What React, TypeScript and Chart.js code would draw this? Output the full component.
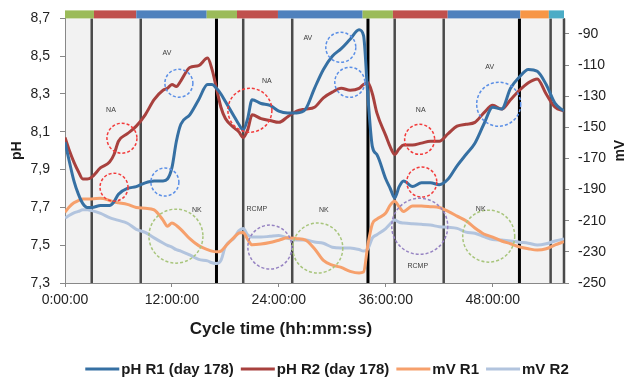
import React, { useEffect, useRef } from 'react';
import { Chart, registerables } from 'chart.js';

Chart.register(...registerables);

// ---- data (time in hours of the cycle) ----
const hours = [0, 0.5, 1, 1.5, 2, 2.5, 3, 4, 5, 5.5, 6, 7, 8, 9, 10, 11, 11.5, 12, 12.5, 13, 14, 15, 16, 16.5, 17, 17.5, 18, 19, 19.5, 20, 20.5, 21, 22, 23, 24, 25, 26, 27, 28, 29, 30, 31, 32, 33, 33.5, 34, 34.5, 35, 36, 36.5, 37, 37.5, 38, 39, 40, 41, 42, 43, 44, 45, 46, 47, 48, 49, 50, 51, 52, 53, 54, 55, 56];

const phR1 = [8.045, 7.94, 7.84, 7.77, 7.72, 7.70, 7.70, 7.71, 7.71, 7.73, 7.77, 7.80, 7.81, 7.83, 7.84, 7.84, 7.85, 7.91, 8.05, 8.14, 8.19, 8.27, 8.35, 8.35, 8.33, 8.30, 8.26, 8.18, 8.14, 8.11, 8.17, 8.27, 8.25, 8.24, 8.21, 8.20, 8.20, 8.22, 8.33, 8.43, 8.50, 8.54, 8.59, 8.64, 8.61, 8.28, 8.02, 7.98, 7.85, 7.80, 7.75, 7.81, 7.84, 7.81, 7.83, 7.83, 7.82, 7.85, 7.92, 7.98, 8.04, 8.14, 8.23, 8.22, 8.33, 8.39, 8.43, 8.42, 8.35, 8.25, 8.21];

const phR2 = [8.07, 8.00, 7.94, 7.89, 7.85, 7.85, 7.86, 7.91, 7.94, 7.98, 8.05, 8.09, 8.13, 8.19, 8.27, 8.32, 8.33, 8.35, 8.34, 8.37, 8.44, 8.45, 8.49, 8.43, 8.33, 8.23, 8.17, 8.12, 8.10, 8.07, 8.11, 8.19, 8.17, 8.16, 8.15, 8.18, 8.21, 8.22, 8.23, 8.28, 8.31, 8.33, 8.32, 8.33, 8.35, 8.36, 8.30, 8.20, 8.08, 8.02, 7.98, 8.01, 8.03, 8.03, 8.04, 8.05, 8.05, 8.09, 8.13, 8.14, 8.15, 8.20, 8.24, 8.22, 8.27, 8.32, 8.36, 8.38, 8.30, 8.23, 8.21];

const mvR1 = [-204.5, -201, -198.5, -197, -196, -196, -196, -195.5, -197, -198, -198.5, -199.5, -201.5, -202, -203, -209.6, -213.5, -211.5, -213, -215.5, -221.5, -226, -228.5, -229.5, -230, -229.5, -226.5, -220.5, -218, -217.5, -222, -225.5, -225, -224, -222.5, -221, -221.5, -222.4, -228, -235.5, -238.5, -240, -242.5, -243.6, -243, -225, -212, -209, -205, -200, -197.5, -201, -204, -200.5, -200.6, -201, -201.5, -204, -207, -210, -214.7, -218.5, -220.5, -223, -224.8, -226.8, -228, -228.8, -228, -225.5, -223.5];

const mvR2 = [-208.3, -206.5, -205, -204, -203, -203, -203.5, -205.3, -208, -209, -209.8, -211.6, -215.5, -217.5, -221, -224.3, -225.8, -227, -228.6, -229.5, -232, -234.8, -235.8, -237, -237.5, -235.5, -226.5, -221, -216.5, -215, -219, -220.5, -220.5, -220, -219.5, -221.2, -222.4, -222.4, -223.7, -224.5, -227, -227.5, -227.5, -228.5, -229.5, -228, -221, -219, -215, -212, -209.6, -211, -211.5, -212, -212.3, -212.8, -213.8, -214.2, -214.9, -217.3, -218, -220.2, -222, -222.4, -223, -223.8, -224.4, -225.6, -224.8, -223, -221.7];

const seriesLabels = ['pH R1 (day 178)', 'pH R2 (day 178)', 'mV R1', 'mV R2'];

const phTicks = [7.3, 7.5, 7.7, 7.9, 8.1, 8.3, 8.5, 8.7];
const mvTicks = [-250, -230, -210, -190, -170, -150, -130, -110, -90];
const hourTicks = [0, 12, 24, 36, 48];

// phase boundaries (hours)
const phaseLines = [3, 8.5, 17, 20, 25.5, 34, 37, 42.5, 51, 54.5, 56];
const cycleStarts = [17, 34, 51];
// top stage bar
const stageEdges = [0, 3.25, 8, 15.9, 19.3, 23.9, 33.4, 36.8, 42.95, 51.1, 54.3, 56];
const stageKinds = ['fill', 'anox', 'aer', 'fill', 'anox', 'aer', 'fill', 'anox', 'aer', 'settle', 'draw'];

// annotations (hours, pH-axis value)
const markCircles = [
  { h: 6.39, v: 8.066, r: 15, kind: 'NA' },
  { h: 5.5, v: 7.807, r: 14, kind: 'NA' },
  { h: 12.78, v: 8.357, r: 14, kind: 'AV' },
  { h: 11.21, v: 7.834, r: 14, kind: 'AV' },
  { h: 12.45, v: 7.548, r: 27, kind: 'NK' },
  { h: 20.75, v: 8.214, r: 22, kind: 'NA' },
  { h: 22.99, v: 7.49, r: 22, kind: 'RCMP' },
  { h: 28.37, v: 7.485, r: 25, kind: 'NK' },
  { h: 30.95, v: 8.547, r: 15, kind: 'AV' },
  { h: 31.96, v: 8.362, r: 15, kind: 'AV' },
  { h: 39.8, v: 8.06, r: 15, kind: 'NA' },
  { h: 40.04, v: 7.834, r: 15, kind: 'NA' },
  { h: 39.81, v: 7.6, r: 28, kind: 'RCMP' },
  { h: 47.55, v: 7.548, r: 26, kind: 'NK' },
  { h: 48.67, v: 8.246, r: 22, kind: 'AV' },
];
const markLabels = [
  { h: 5.16, v: 8.214, text: 'NA' },
  { h: 11.44, v: 8.515, text: 'AV' },
  { h: 14.8, v: 7.686, text: 'NK' },
  { h: 22.65, v: 8.367, text: 'NA' },
  { h: 21.53, v: 7.691, text: 'RCMP' },
  { h: 29.05, v: 7.686, text: 'NK' },
  { h: 27.25, v: 8.594, text: 'AV' },
  { h: 39.92, v: 8.214, text: 'NA' },
  { h: 39.59, v: 7.39, text: 'RCMP' },
  { h: 46.65, v: 7.691, text: 'NK' },
  { h: 47.66, v: 8.441, text: 'AV' },
];

const xTitle = 'Cycle time (hh:mm:ss)';
const yTitle = 'pH';
const y1Title = 'mV';

const FONT = "'Liberation Sans', Arial, sans-serif";
const seriesColors = ['#3670A3', '#A8413E', '#F6A06C', '#B2C4DE'];

const stageColors: Record<string, string> = {
  fill: '#9BBB59',
  anox: '#C0504D',
  aer: '#4F81BD',
  settle: '#F79646',
  draw: '#4BACC6',
};
const circleColors: Record<string, string> = {
  NA: '#F23B3B',
  AV: '#5B8FE6',
  NK: '#A8C57C',
  RCMP: '#9683C2',
};

const decor = {
  id: 'decor',
  beforeDraw(chart: any) {
    const { ctx, chartArea: a } = chart;
    ctx.save();
    ctx.fillStyle = '#F2F2F2';
    ctx.fillRect(a.left, a.top, a.right - a.left, a.bottom - a.top);
    ctx.restore();
  },
  beforeDatasetsDraw(chart: any) {
    const { ctx, chartArea: a, scales } = chart;
    ctx.save();
    for (const h of phaseLines) {
      const px = scales.x.getPixelForValue(h);
      const major = cycleStarts.includes(h);
      ctx.strokeStyle = major ? '#000000' : '#4a4a4a';
      ctx.lineWidth = major ? 3 : 2.5;
      ctx.beginPath();
      ctx.moveTo(px, a.top);
      ctx.lineTo(px, a.bottom);
      ctx.stroke();
    }
    ctx.restore();
  },
  afterDatasetsDraw(chart: any) {
    const { ctx, scales } = chart;
    ctx.save();
    ctx.setLineDash([3, 2]);
    ctx.lineWidth = 1.5;
    for (const c of markCircles) {
      const px = scales.x.getPixelForValue(c.h);
      const py = scales.y.getPixelForValue(c.v);
      ctx.strokeStyle = circleColors[c.kind];
      ctx.beginPath();
      ctx.arc(px, py, c.r, 0, Math.PI * 2);
      ctx.stroke();
    }
    ctx.setLineDash([]);
    ctx.fillStyle = '#3a3a3a';
    ctx.font = `7px ${FONT}`;
    ctx.textAlign = 'center';
    ctx.textBaseline = 'middle';
    for (const l of markLabels) {
      ctx.fillText(l.text, scales.x.getPixelForValue(l.h), scales.y.getPixelForValue(l.v));
    }
    ctx.restore();
  },
  afterDraw(chart: any) {
    const { ctx, chartArea: a, scales } = chart;
    ctx.save();
    for (let i = 0; i < stageKinds.length; i++) {
      const x0 = scales.x.getPixelForValue(stageEdges[i]);
      const x1 = scales.x.getPixelForValue(stageEdges[i + 1]);
      ctx.fillStyle = stageColors[stageKinds[i]];
      ctx.fillRect(x0, a.top - 8, x1 - x0, 8);
    }
    // right axis title (reads bottom to top)
    ctx.fillStyle = '#1a1a1a';
    ctx.font = `bold 14px ${FONT}`;
    ctx.textAlign = 'center';
    ctx.textBaseline = 'middle';
    ctx.translate(620, (a.top + a.bottom) / 2);
    ctx.rotate(-Math.PI / 2);
    ctx.fillText(y1Title, 0, 0);
    ctx.restore();

    // x axis title
    ctx.save();
    ctx.fillStyle = '#1a1a1a';
    ctx.font = `bold 17px ${FONT}`;
    ctx.textAlign = 'center';
    ctx.textBaseline = 'middle';
    ctx.fillText(xTitle, 281, 329);
    ctx.restore();

    // legend (line + label per dataset)
    ctx.save();
    ctx.font = `bold 15px ${FONT}`;
    ctx.textBaseline = 'middle';
    ctx.textAlign = 'left';
    const lineLen = 34;
    const gap = 2;
    const itemGap = 7;
    const datasets = chart.data.datasets;
    const widths = datasets.map((d: any) => lineLen + gap + ctx.measureText(d.label).width);
    const total = widths.reduce((s: number, w: number) => s + w, 0) + itemGap * (datasets.length - 1);
    let x = 327 - total / 2;
    const y = 369;
    datasets.forEach((d: any, i: number) => {
      ctx.strokeStyle = d.borderColor;
      ctx.lineWidth = 3;
      ctx.beginPath();
      ctx.moveTo(x, y);
      ctx.lineTo(x + lineLen, y);
      ctx.stroke();
      ctx.fillStyle = '#1a1a1a';
      ctx.fillText(d.label, x + lineLen + gap, y + 0.5);
      x += widths[i] + itemGap;
    });
    ctx.restore();
  },
};

export default function App() {
  const ref = useRef<HTMLCanvasElement>(null);
  useEffect(() => {
    document.body.style.margin = '0';
    const mk = (vals: number[]) => hours.map((h, i) => ({ x: h, y: vals[i] }));
    const chart = new Chart(ref.current as HTMLCanvasElement, {
      type: 'line',
      data: {
        datasets: [
          { label: seriesLabels[0], data: mk(phR1), yAxisID: 'y', borderColor: seriesColors[0], backgroundColor: seriesColors[0] },
          { label: seriesLabels[1], data: mk(phR2), yAxisID: 'y', borderColor: seriesColors[1], backgroundColor: seriesColors[1] },
          { label: seriesLabels[2], data: mk(mvR1), yAxisID: 'y1', borderColor: seriesColors[2], backgroundColor: seriesColors[2] },
          { label: seriesLabels[3], data: mk(mvR2), yAxisID: 'y1', borderColor: seriesColors[3], backgroundColor: seriesColors[3] },
        ] as any,
      },
      options: {
        animation: false,
        responsive: false,
        devicePixelRatio: 1,
        events: [],
        elements: {
          line: { borderWidth: 3, tension: 0.4, cubicInterpolationMode: 'monotone' } as any,
          point: { radius: 0 },
        },
        layout: { padding: { top: 18, left: 0, right: 0, bottom: 0 } },
        plugins: {
          tooltip: { enabled: false },
          legend: { display: false },
        },
        scales: {
          x: {
            type: 'linear',
            min: 0,
            max: 56,
            afterBuildTicks: (s: any) => { s.ticks = hourTicks.map((v) => ({ value: v })); },
            afterFit: (s: any) => { s.height = 98; },
            ticks: {
              autoSkip: false,
              maxRotation: 0,
              padding: 5,
              color: '#222',
              font: { family: FONT, size: 14 },
              callback: (v: any) => `${v}:00:00`,
            },
            grid: { drawOnChartArea: false, drawTicks: true, tickLength: 4, color: '#888' },
            border: { display: true, color: '#888' },
          },
          y: {
            type: 'linear',
            position: 'left',
            min: 7.3,
            max: 8.7,
            afterBuildTicks: (s: any) => { s.ticks = phTicks.map((v) => ({ value: v })); },
            afterFit: (s: any) => { s.width = 65; },
            ticks: {
              padding: 10,
              color: '#222',
              font: { family: FONT, size: 14 },
              callback: (v: any) => Number(v).toFixed(1).replace('.', ','),
            },
            grid: { drawOnChartArea: false, drawTicks: true, tickLength: 5, color: '#888' },
            border: { display: true, color: '#888' },
            title: {
              display: true,
              text: yTitle,
              color: '#1a1a1a',
              font: { family: FONT, size: 14, weight: 'bold' },
              padding: { top: 9, bottom: 0 },
            },
          },
          y1: {
            type: 'linear',
            position: 'right',
            min: -250,
            max: -80,
            afterBuildTicks: (s: any) => { s.ticks = mvTicks.map((v) => ({ value: v })); },
            afterFit: (s: any) => { s.width = 68; },
            ticks: {
              padding: 9,
              color: '#222',
              font: { family: FONT, size: 14 },
            },
            grid: { drawOnChartArea: false, drawTicks: true, tickLength: 5, color: '#888' },
            border: { display: true, color: '#888' },
          },
        },
      } as any,
      plugins: [decor],
    });
    return () => chart.destroy();
  }, []);
  return (
    <div style={{ position: 'absolute', left: 0, top: 0, width: 632, height: 381 }}>
      <canvas ref={ref} width={632} height={381} style={{ display: 'block' }} />
    </div>
  );
}
